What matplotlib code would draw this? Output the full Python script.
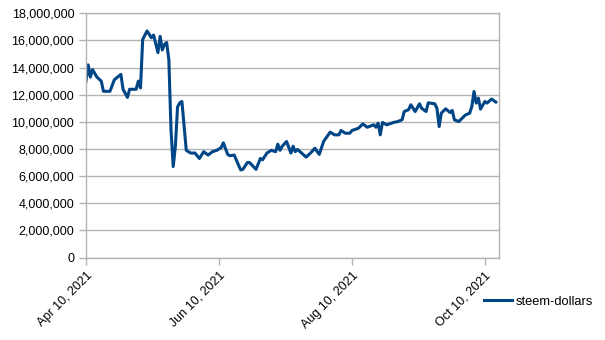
import numpy as np
import pandas as pd
import matplotlib
matplotlib.use("Agg")
import matplotlib.pyplot as plt
import matplotlib.dates as mdates
from matplotlib.ticker import FuncFormatter, MultipleLocator

plt.rcParams['font.family'] = ['Liberation Sans', 'DejaVu Sans']

start = pd.Timestamp('2021-04-10')
# days since Apr 10, 2021
days = [0, 1, 2, 3, 5, 7, 8, 11, 13, 16, 17, 19, 20, 23, 24, 25, 26, 28, 30, 31,
        33, 34, 35, 36, 37, 38, 39, 40, 41, 42, 43, 44, 46, 48, 50, 52, 54, 56, 58, 60,
        62, 63, 65, 66, 68, 70, 71, 72, 74, 75, 78, 80, 81, 83, 85, 87, 88, 89, 90, 92,
        94, 95, 96, 97, 101, 103, 105, 107, 109, 112, 114, 116, 117, 119, 121, 122, 125, 127, 129, 132,
        133, 134, 135, 136, 138, 141, 143, 145, 146, 148, 149, 151, 153, 154, 156, 157, 160, 161, 162, 163,
        165, 167, 168, 169, 171, 174, 176, 177, 178, 179, 180, 181, 183, 184, 186, 188]
steem_dollars = [13000000, 14200000, 13300000, 13850000, 13300000, 13000000, 12250000, 12250000, 13100000, 13500000,
                 12400000, 11800000, 12400000, 12400000, 13000000, 12500000, 16070000, 16700000, 16200000, 16400000,
                 15100000, 16300000, 15300000, 15700000, 15850000, 14600000, 9400000, 6700000, 8200000, 11100000,
                 11400000, 11500000, 7900000, 7700000, 7700000, 7300000, 7800000, 7550000, 7800000, 7900000,
                 8100000, 8450000, 7600000, 7500000, 7550000, 6800000, 6450000, 6500000, 7000000, 7000000,
                 6500000, 7300000, 7200000, 7700000, 7900000, 7800000, 8350000, 7900000, 8200000, 8550000,
                 7700000, 8200000, 7800000, 7970000, 7400000, 7700000, 8050000, 7600000, 8550000, 9240000,
                 9040000, 9040000, 9360000, 9160000, 9160000, 9360000, 9530000, 9850000, 9600000, 9780000,
                 9600000, 9900000, 9040000, 9950000, 9780000, 9950000, 10020000, 10150000, 10760000, 10900000,
                 11260000, 10760000, 11330000, 11000000, 10760000, 11400000, 11330000, 11000000, 9650000, 10640000,
                 10960000, 10690000, 10840000, 10150000, 10020000, 10500000, 10640000, 11130000, 12240000, 11380000,
                 11750000, 10940000, 11500000, 11380000, 11680000, 11460000]
tick_dates = ['2021-04-10', '2021-06-10', '2021-08-10', '2021-10-10']

dates = [start + pd.Timedelta(days=d) for d in days]

fig = plt.figure(figsize=(6.05, 3.4), dpi=100)
ax = fig.add_axes([86 / 605, 1 - 257.5 / 340, (499.3 - 86) / 605, (257.5 - 13.3) / 340])

grid_col = '#b3b3b3'
ax.plot(dates, steem_dollars, color='#004586', linewidth=2.2, label='steem-dollars',
        solid_joinstyle='round')

ax.set_ylim(0, 18000000)
ax.yaxis.set_major_locator(MultipleLocator(2000000))
ax.yaxis.set_major_formatter(FuncFormatter(lambda v, p: f'{v:,.0f}'))
ax.set_xlim(start, start + pd.Timedelta(days=189.6))
ax.set_xticks([pd.Timestamp(t) for t in tick_dates])
ax.xaxis.set_major_formatter(mdates.DateFormatter('%b %d, %Y'))

ax.grid(axis='y', color=grid_col, linewidth=1)
ax.set_axisbelow(True)
for s in ax.spines.values():
    s.set_color(grid_col)
    s.set_linewidth(1)
ax.tick_params(axis='both', colors=grid_col, labelcolor='black', labelsize=9, length=5, width=1)
for lbl in ax.get_xticklabels():
    lbl.set_rotation(45)
    lbl.set_ha('right')
    lbl.set_rotation_mode('anchor')

fig.legend(loc='center left', bbox_to_anchor=(472 / 605, 1 - 301.5 / 340), frameon=False,
           fontsize=9.3, handlelength=2.2, handletextpad=0.25)

fig.savefig('out.png', dpi=100)
